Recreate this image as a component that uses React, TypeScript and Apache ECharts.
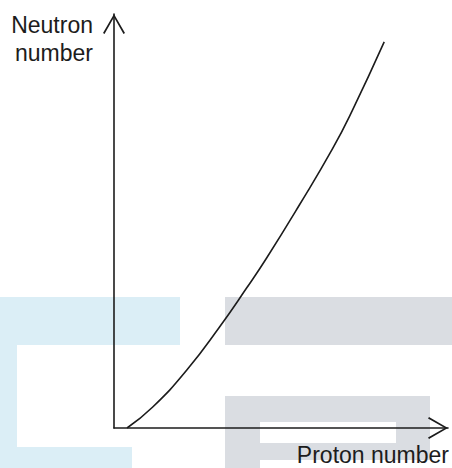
import React, { useEffect, useRef } from "react";
import * as echarts from "echarts";

// Proton number (Z) and neutron number (N)
const protonNumbers = [3.9, 11.6, 21.8, 31.6, 39.7, 45.7, 55.5, 65.4, 71.3, 80.9];
const neutronNumbers = [0, 7.6, 21.0, 36.6, 50.7, 61.6, 80.8, 101.1, 114.9, 139.9];
const xAxisName = "Proton number";
const yAxisName = "Neutron\nnumber";
const xRange = [0, 100];
const yRange = [0, 150];

const INK = "#1c1c1c";
const FONT = "Liberation Sans, Arial, sans-serif";
const CHEVRON = "path://M0,19 L11,0 L22,19 L20.5,20 L11,3.2 L1.5,20 Z";

export default function App() {
  const ref = useRef<HTMLDivElement>(null);

  useEffect(() => {
    if (!ref.current) return;
    const chart = echarts.init(ref.current, null, { renderer: "svg" });
    const points = protonNumbers.map((z, i) => [z, neutronNumbers[i]]);
    const blue = "#dbeef6";
    const gray = "#dadde2";
    chart.setOption({
      animation: false,
      backgroundColor: "#ffffff",
      textStyle: { fontFamily: FONT },
      grid: { left: 114, right: 3, top: 14, bottom: 40, containLabel: false },
      graphic: [
        { type: "rect", z: -10, silent: true, shape: { x: 0, y: 297, width: 180, height: 48 }, style: { fill: blue } },
        { type: "rect", z: -10, silent: true, shape: { x: 0, y: 345, width: 17, height: 123 }, style: { fill: blue } },
        { type: "rect", z: -10, silent: true, shape: { x: 0, y: 447, width: 132, height: 21 }, style: { fill: blue } },
        { type: "rect", z: -10, silent: true, shape: { x: 225, y: 297, width: 227, height: 48 }, style: { fill: gray } },
        { type: "rect", z: -10, silent: true, shape: { x: 225, y: 396, width: 205, height: 64 }, style: { fill: gray } },
        { type: "rect", z: -9, silent: true, shape: { x: 260, y: 422, width: 136, height: 21 }, style: { fill: "#ffffff" } },
        { type: "rect", z: -10, silent: true, shape: { x: 225, y: 460, width: 35, height: 8 }, style: { fill: gray } },
      ],
      xAxis: {
        type: "value",
        min: xRange[0],
        max: xRange[1],
        name: xAxisName,
        nameLocation: "end",
        nameGap: 1,
        nameTextStyle: {
          align: "right",
          verticalAlign: "top",
          fontSize: 23,
          color: INK,
          fontFamily: FONT,
          padding: [15, 0, 0, 0],
        },
        axisLine: {
          show: true,
          lineStyle: { color: INK, width: 1.6 },
          symbol: ["none", CHEVRON],
          symbolSize: [22, 20],
          symbolOffset: [0, -10],
        },
        axisTick: { show: false },
        axisLabel: { show: false },
        splitLine: { show: false },
      },
      yAxis: {
        type: "value",
        min: yRange[0],
        max: yRange[1],
        name: yAxisName,
        nameLocation: "end",
        nameGap: 3,
        nameTextStyle: {
          align: "right",
          verticalAlign: "top",
          fontSize: 23,
          lineHeight: 28,
          color: INK,
          fontFamily: FONT,
          padding: [0, 21, 0, 0],
        },
        axisLine: {
          show: true,
          lineStyle: { color: INK, width: 1.6 },
          symbol: ["none", CHEVRON],
          symbolSize: [22, 20],
          symbolOffset: [0, -10],
        },
        axisTick: { show: false },
        axisLabel: { show: false },
        splitLine: { show: false },
      },
      series: [
        {
          type: "line",
          data: points,
          smooth: 0.5,
          showSymbol: false,
          symbol: "none",
          lineStyle: { color: INK, width: 1.6 },
          z: 3,
        },
      ],
    });
    return () => chart.dispose();
  }, []);

  return (
    <div
      ref={ref}
      style={{ position: "fixed", left: 0, top: 0, width: 452, height: 468 }}
    />
  );
}
